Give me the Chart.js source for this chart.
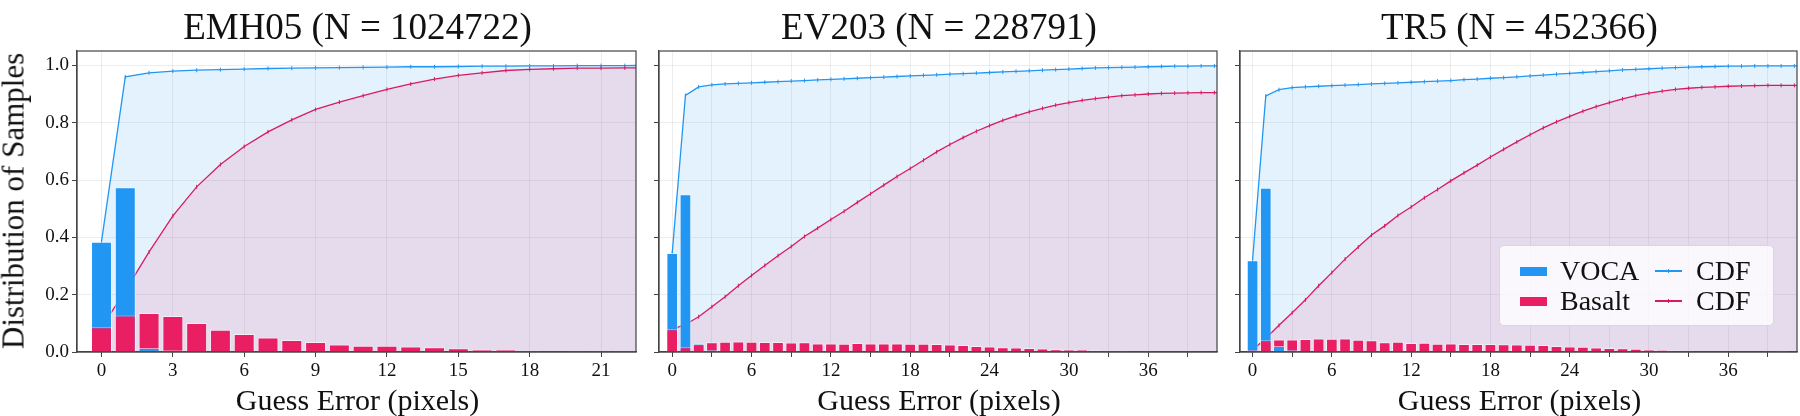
<!DOCTYPE html>
<html>
<head>
<meta charset="utf-8">
<script src="https://cdn.jsdelivr.net/npm/chart.js@4.4.0/dist/chart.umd.min.js"></script>
<style>
  body { margin: 0; width: 1800px; height: 416px; background: #fff; overflow: hidden;
         font-family: 'Liberation Serif', 'DejaVu Serif', serif; color: #111; }
  .panel { position: absolute; top: 0; height: 416px; }
  .txt { position: absolute; white-space: nowrap; line-height: 1; transform: translate(-50%, -50%); }
  .title { font-size: 37px; top: 26px; }
  .xlabel { font-size: 30px; top: 400px; }
  .ylabel { font-size: 31px; left: 13px; top: 201px; transform: translate(-50%, -50%) rotate(-90deg); }
  #legend { position: absolute; left: 1499px; top: 245px; width: 275px; height: 81px; box-sizing: border-box;
            background: rgba(255, 255, 255, 0.8); border: 1px solid #d8d8d8; border-radius: 5px; font-size: 28px; }
  #legend .item { position: absolute; height: 30px; display: flex; align-items: center; }
  #legend .patch { width: 27px; height: 9px; margin-right: 13px; }
  #legend .handle { position: relative; width: 27px; height: 1.3px; margin-right: 14px; }
  #legend .handle::after { content: ''; position: absolute; left: 12.5px; top: -1.5px; width: 1.3px; height: 4px; background: inherit; }
</style>
</head>
<body>
<div id="p0" class="panel"><canvas id="c0"></canvas></div>
<div id="p1" class="panel"><canvas id="c1"></canvas></div>
<div id="p2" class="panel"><canvas id="c2"></canvas></div>

<div class="txt ylabel">Distribution of Samples</div>

<div id="legend">
  <div class="item" style="left:20px; top:10px"><span class="patch" style="background:#2196F3"></span>VOCA</div>
  <div class="item" style="left:20px; top:40px"><span class="patch" style="background:#E91E63"></span>Basalt</div>
  <div class="item" style="left:155px; top:10px"><span class="handle" style="background:#2196F3"></span>CDF</div>
  <div class="item" style="left:155px; top:40px"><span class="handle" style="background:#D81B60"></span>CDF</div>
</div>

<script>
// ---- data ----
const panelTitles = ['EMH05 (N = 1024722)', 'EV203 (N = 228791)', 'TR5 (N = 452366)'];
const xAxisLabel = 'Guess Error (pixels)';

const yTicks = [0, 0.2, 0.4, 0.6, 0.8, 1.0];
const yTickLabels = ['0.0', '0.2', '0.4', '0.6', '0.8', '1.0'];

const emhTicks = [0, 3, 6, 9, 12, 15, 18, 21];
const emhTickLabels = ['0', '3', '6', '9', '12', '15', '18', '21'];
const wideTicks = [0, 3, 6, 9, 12, 15, 18, 21, 24, 27, 30, 33, 36, 39];
const wideTickLabels = ['0', '', '6', '', '12', '', '18', '', '24', '', '30', '', '36', ''];

// EMH05
const emhErrors = [0, 1, 2, 3, 4, 5, 6, 7, 8, 9, 10, 11, 12, 13, 14, 15, 16, 17, 18, 19, 20, 21, 22, 23];
const emhVoca = [0.385, 0.575, 0.014, 0.006, 0.003, 0.002, 0.002, 0.0015, 0.0012, 0.001, 0.001, 0.001,
                 0.001, 0.001, 0.0009, 0.0008, 0.0007, 0.0006, 0.0005, 0.0005, 0.0004, 0.0003, 0.0003];
const emhBasalt = [0.086, 0.127, 0.136, 0.126, 0.101, 0.078, 0.063, 0.051, 0.042, 0.035, 0.026, 0.022,
                   0.022, 0.019, 0.017, 0.013, 0.009, 0.008, 0.004, 0.002, 0.0015, 0.0005, 0.0005];
const emhVocaCdf = [0.385, 0.960, 0.974, 0.980, 0.983, 0.985, 0.987, 0.989, 0.990, 0.991, 0.992, 0.993,
                    0.994, 0.995, 0.995, 0.996, 0.997, 0.997, 0.998, 0.998, 0.999, 0.999, 0.999, 1.0];
const emhBasaltCdf = [0.086, 0.213, 0.349, 0.475, 0.576, 0.654, 0.717, 0.768, 0.810, 0.846, 0.872, 0.894,
                      0.916, 0.935, 0.952, 0.965, 0.974, 0.982, 0.986, 0.988, 0.990, 0.990, 0.991, 0.991];

// EV203
const evErrors = [0, 1, 2, 3, 4, 5, 6, 7, 8, 9, 10, 11, 12, 13, 14, 15, 16, 17, 18, 19, 20, 21,
                  22, 23, 24, 25, 26, 27, 28, 29, 30, 31, 32, 33, 34, 35, 36, 37, 38, 39, 40, 41, 42];
const evVoca = [0.345, 0.550, 0.030, 0.007, 0.003, 0.002, 0.002, 0.002, 0.0022, 0.002, 0.002, 0.0018,
                0.002, 0.002, 0.002, 0.0021, 0.002, 0.002, 0.002, 0.002, 0.002, 0.002, 0.002, 0.002,
                0.002, 0.0022, 0.002, 0.002, 0.002, 0.002, 0.002, 0.002, 0.0018, 0.0015, 0.0012, 0.001,
                0.001, 0.0008, 0.0006, 0.0005, 0.0005];
const evBasalt = [0.079, 0.017, 0.027, 0.034, 0.036, 0.037, 0.036, 0.035, 0.035, 0.033, 0.034, 0.030,
                  0.030, 0.029, 0.031, 0.030, 0.030, 0.030, 0.029, 0.029, 0.028, 0.026, 0.024, 0.021,
                  0.019, 0.017, 0.016, 0.014, 0.012, 0.010, 0.009, 0.008, 0.006, 0.005, 0.004, 0.003,
                  0.0025, 0.002, 0.0015, 0.001, 0.001];
const evVocaCdf = [0.345, 0.895, 0.925, 0.932, 0.935, 0.937, 0.939, 0.941, 0.943, 0.945, 0.947, 0.949,
                   0.951, 0.953, 0.955, 0.957, 0.959, 0.961, 0.963, 0.965, 0.967, 0.969, 0.971, 0.973,
                   0.975, 0.977, 0.979, 0.981, 0.983, 0.985, 0.987, 0.989, 0.991, 0.992, 0.993, 0.994,
                   0.995, 0.996, 0.997, 0.997, 0.998, 0.998, 0.998];
const evBasaltCdf = [0.079, 0.096, 0.123, 0.158, 0.193, 0.231, 0.267, 0.302, 0.336, 0.368, 0.403, 0.432,
                     0.462, 0.491, 0.522, 0.552, 0.582, 0.612, 0.640, 0.669, 0.698, 0.724, 0.748, 0.770,
                     0.790, 0.808, 0.824, 0.838, 0.850, 0.861, 0.870, 0.878, 0.884, 0.889, 0.894, 0.897,
                     0.900, 0.902, 0.903, 0.904, 0.905, 0.905, 0.905];

// TR5
const trErrors = [0, 1, 2, 3, 4, 5, 6, 7, 8, 9, 10, 11, 12, 13, 14, 15, 16, 17, 18, 19, 20, 21,
                  22, 23, 24, 25, 26, 27, 28, 29, 30, 31, 32, 33, 34, 35, 36, 37, 38, 39, 40, 41, 42];
const trVoca = [0.320, 0.573, 0.021, 0.007, 0.003, 0.002, 0.002, 0.002, 0.002, 0.002, 0.002, 0.002,
                0.002, 0.002, 0.002, 0.002, 0.003, 0.002, 0.003, 0.002, 0.003, 0.003, 0.003, 0.003,
                0.003, 0.003, 0.003, 0.003, 0.003, 0.002, 0.002, 0.002, 0.002, 0.002, 0.001, 0.001,
                0.001, 0.0008, 0.0006, 0.0005, 0.0004];
const trBasalt = [0.007, 0.041, 0.044, 0.044, 0.045, 0.047, 0.046, 0.047, 0.043, 0.041, 0.034, 0.036,
                  0.031, 0.032, 0.029, 0.030, 0.028, 0.028, 0.028, 0.027, 0.026, 0.025, 0.024, 0.021,
                  0.019, 0.018, 0.016, 0.014, 0.013, 0.011, 0.009, 0.007, 0.006, 0.004, 0.003, 0.002,
                  0.002, 0.0015, 0.001, 0.001, 0.0005];
const trVocaCdf = [0.320, 0.893, 0.915, 0.922, 0.925, 0.927, 0.929, 0.931, 0.933, 0.935, 0.937, 0.939,
                   0.941, 0.943, 0.945, 0.947, 0.950, 0.952, 0.955, 0.957, 0.960, 0.963, 0.966, 0.969,
                   0.972, 0.975, 0.978, 0.981, 0.984, 0.986, 0.988, 0.990, 0.992, 0.994, 0.995, 0.996,
                   0.997, 0.997, 0.998, 0.998, 0.998, 0.998, 0.998];
const trBasaltCdf = [0.007, 0.048, 0.093, 0.137, 0.182, 0.231, 0.277, 0.324, 0.366, 0.408, 0.440, 0.476,
                     0.506, 0.538, 0.567, 0.597, 0.625, 0.652, 0.680, 0.707, 0.733, 0.758, 0.782, 0.803,
                     0.822, 0.840, 0.856, 0.870, 0.883, 0.894, 0.903, 0.910, 0.916, 0.920, 0.923, 0.925,
                     0.927, 0.928, 0.929, 0.930, 0.930, 0.930, 0.930];

// ---- layout / style ----
const BLUE = '#2196F3', RED = '#E91E63', RED_LINE = '#D81B60';
const AREA_TOP = 51, AREA_BOTTOM = 352;
const frames = [
  { left: 77, right: 638, axisW: 77, xMin: -1.03, xMax: 22.47, ticks: emhTicks, tickLabels: emhTickLabels,
    errors: emhErrors, voca: emhVoca, basalt: emhBasalt, vocaCdf: emhVocaCdf, basaltCdf: emhBasaltCdf },
  { left: 659, right: 1219, axisW: 12, xMin: -1.0, xMax: 41.2, ticks: wideTicks, tickLabels: wideTickLabels,
    errors: evErrors, voca: evVoca, basalt: evBasalt, vocaCdf: evVocaCdf, basaltCdf: evBasaltCdf },
  { left: 1240, right: 1799, axisW: 12, xMin: -0.95, xMax: 41.2, ticks: wideTicks, tickLabels: wideTickLabels,
    errors: trErrors, voca: trVoca, basalt: trBasalt, vocaCdf: trVocaCdf, basaltCdf: trBasaltCdf }
];

const tickFont = { family: "'Liberation Serif', serif", size: 19 };
const gridColor = 'rgba(0, 0, 0, 0.07)';
const axisColor = '#444';

// box around the plot area (matplotlib style spines)
const framePlugin = {
  id: 'frame',
  afterDraw(chart) {
    const { ctx, chartArea: a } = chart;
    ctx.save();
    ctx.strokeStyle = axisColor;
    ctx.lineWidth = 1.2;
    ctx.strokeRect(a.left, a.top, a.right - a.left, a.bottom - a.top);
    ctx.restore();
  }
};

// the shorter of the two bars in a bin is drawn in front
function splitLayers(errors, voca, basalt) {
  const out = { backVoca: [], backBasalt: [], frontVoca: [], frontBasalt: [] };
  voca.forEach((v, i) => {
    const b = basalt[i];
    if (v >= b) {
      out.backVoca.push({ x: errors[i], y: v });
      out.frontBasalt.push({ x: errors[i], y: b });
    } else {
      out.backBasalt.push({ x: errors[i], y: b });
      out.frontVoca.push({ x: errors[i], y: v });
    }
  });
  return out;
}

function barSet(data, color, order) {
  return {
    type: 'bar', data, order, grouped: false,
    backgroundColor: color, borderColor: 'rgba(255, 255, 255, 0.55)', borderWidth: 1,
    barPercentage: 0.88, categoryPercentage: 1.0
  };
}

function cdfSet(errors, values, color, fillColor, order) {
  return {
    type: 'line', order,
    data: values.map((v, i) => ({ x: errors[i], y: v })),
    borderColor: color, borderWidth: 1.3, backgroundColor: fillColor,
    fill: 'origin', tension: 0, clip: 0,
    pointStyle: 'line', rotation: 90, pointRadius: 2, pointBorderWidth: 1,
    pointBorderColor: color, pointHoverRadius: 0
  };
}

frames.forEach((f, i) => {
  const box = document.getElementById('p' + i);
  const boxLeft = f.left - f.axisW;
  box.style.left = boxLeft + 'px';
  box.style.width = (f.right + 1 - boxLeft) + 'px';

  const title = document.createElement('div');
  title.className = 'txt title';
  title.style.left = ((f.left + f.right) / 2) + 'px';
  title.textContent = panelTitles[i];
  document.body.appendChild(title);

  const xl = document.createElement('div');
  xl.className = 'txt xlabel';
  xl.style.left = ((f.left + f.right) / 2) + 'px';
  xl.textContent = xAxisLabel;
  document.body.appendChild(xl);

  const L = splitLayers(f.errors, f.voca, f.basalt);

  new Chart(document.getElementById('c' + i), {
    type: 'bar',
    data: {
      datasets: [
        cdfSet(f.errors, f.vocaCdf, BLUE, 'rgba(33, 150, 243, 0.12)', 4),
        cdfSet(f.errors, f.basaltCdf, RED_LINE, 'rgba(233, 30, 99, 0.11)', 3),
        barSet(L.backVoca, BLUE, 2),
        barSet(L.backBasalt, RED, 2),
        barSet(L.frontVoca, BLUE, 1),
        barSet(L.frontBasalt, RED, 1)
      ]
    },
    options: {
      responsive: true,
      maintainAspectRatio: false,
      animation: false,
      events: [],
      layout: { padding: { top: AREA_TOP, right: 1, left: 0, bottom: 0 } },
      plugins: { legend: { display: false }, tooltip: { enabled: false } },
      scales: {
        x: {
          type: 'linear', min: f.xMin, max: f.xMax, offset: false,
          grid: { offset: false, color: gridColor, tickColor: axisColor, tickLength: 5, tickWidth: 1 },
          border: { color: axisColor, width: 1.2 },
          ticks: {
            font: tickFont, color: '#111', padding: 3, maxRotation: 0, autoSkip: false,
            callback: (v, idx) => f.tickLabels[idx]
          },
          afterBuildTicks: s => { s.ticks = f.ticks.map(v => ({ value: v })); },
          afterFit: s => { s.height = 416 - AREA_BOTTOM; }
        },
        y: {
          min: 0, max: 1.05,
          grid: { color: gridColor, tickColor: axisColor, tickLength: 5, tickWidth: 1 },
          border: { color: axisColor, width: 1.2 },
          ticks: {
            display: i === 0, font: tickFont, color: '#111', padding: 3, autoSkip: false,
            callback: (v, idx) => yTickLabels[idx]
          },
          afterBuildTicks: s => { s.ticks = yTicks.map(v => ({ value: v })); },
          afterFit: s => { s.width = f.axisW; }
        }
      }
    },
    plugins: [framePlugin]
  });
});
</script>
</body>
</html>
